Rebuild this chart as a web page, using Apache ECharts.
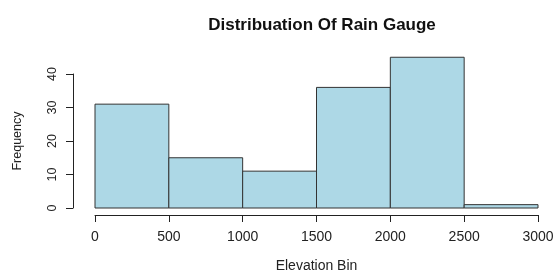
<!DOCTYPE html>
<html>
<head>
<meta charset="utf-8">
<script src="https://cdn.jsdelivr.net/npm/echarts@6/dist/echarts.min.js"></script>
<style>
  html, body { margin: 0; padding: 0; background: #fff; }
  #chart { width: 555px; height: 273px; }
</style>
</head>
<body>
<div id="chart"></div>
<script>
// histogram bins (lower edge, upper edge) and counts
const binStarts = [0, 500, 1000, 1500, 2000, 2500];
const binEnds = [500, 1000, 1500, 2000, 2500, 3000];
const counts = [31, 15, 11, 36, 45, 1];
const xTicks = [0, 500, 1000, 1500, 2000, 2500, 3000];
const yTicks = [0, 10, 20, 30, 40];

const histData = binStarts.map((s, i) => [s, binEnds[i], counts[i]]);

const chart = echarts.init(document.getElementById('chart'), null, { renderer: 'canvas' });

const font = 'Liberation Sans, Arial, sans-serif';

chart.setOption({
  animation: false,
  backgroundColor: '#ffffff',
  title: {
    text: 'Distribuation Of Rain Gauge',
    left: 317,
    top: 12,
    textAlign: 'center',
    textStyle: { fontFamily: font, fontSize: 17, fontWeight: 'bold', color: '#111' }
  },
  grid: { left: 95, right: 17, top: 74, bottom: 65, containLabel: false, outerBoundsMode: 'none' },
  xAxis: {
    type: 'value',
    min: xTicks[0],
    max: xTicks[xTicks.length - 1],
    interval: 500,
    offset: 7,
    name: 'Elevation Bin',
    nameLocation: 'middle',
    nameGap: 44,
    nameTextStyle: { fontFamily: font, fontSize: 14, color: '#222' },
    splitLine: { show: false },
    axisLine: { show: true, onZero: false, lineStyle: { color: '#222', width: 1 } },
    axisTick: { show: true, length: 7, lineStyle: { color: '#222' } },
    axisLabel: { fontFamily: font, fontSize: 14, color: '#222', margin: 15, formatter: v => String(v) }
  },
  yAxis: {
    type: 'value',
    min: yTicks[0],
    max: yTicks[yTicks.length - 1],
    interval: 10,
    offset: 22,
    name: 'Frequency',
    nameLocation: 'middle',
    nameGap: 49,
    nameTextStyle: { fontFamily: font, fontSize: 12.5, color: '#222' },
    splitLine: { show: false },
    axisLine: { show: true, onZero: false, lineStyle: { color: '#222', width: 1 } },
    axisTick: { show: true, length: 7, lineStyle: { color: '#222' } },
    axisLabel: { fontFamily: font, fontSize: 12.5, color: '#222', rotate: 90, margin: 14 }
  },
  series: [{
    type: 'custom',
    clip: false,
    data: histData,
    encode: { x: [0, 1], y: 2 },
    renderItem: function (params, api) {
      const p0 = api.coord([api.value(0), api.value(2)]);
      const p1 = api.coord([api.value(1), 0]);
      return {
        type: 'rect',
        shape: { x: p0[0], y: p0[1], width: p1[0] - p0[0], height: p1[1] - p0[1] },
        style: { fill: '#ADD8E6', stroke: '#333', lineWidth: 1 }
      };
    }
  }]
});
</script>
</body>
</html>
